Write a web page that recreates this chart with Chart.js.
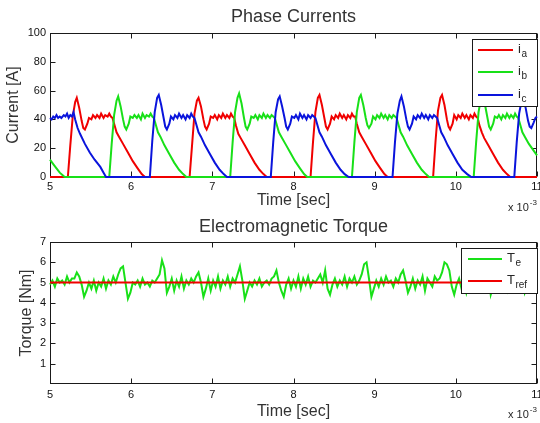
<!DOCTYPE html>
<html>
<head>
<meta charset="utf-8">
<script src="https://cdn.jsdelivr.net/npm/chart.js@4.4.0/dist/chart.umd.min.js"></script>
<style>
  html, body { margin: 0; padding: 0; background: #fff; overflow: hidden; }
  #wrap { position: relative; width: 540px; height: 423px; }
  canvas { position: absolute; left: 0; }
  #currents { top: 0; }
  #torque { top: 214px; }
</style>
</head>
<body>
<div id="wrap">
  <canvas id="currents" width="540" height="214"></canvas>
  <canvas id="torque" width="540" height="209"></canvas>
</div>
<script>
// tick values (time axis is in ms, shown as "x 10^-3" sec)
const timeTicks = [5, 6, 7, 8, 9, 10, 11];
const currentTicks = [0, 20, 40, 60, 80, 100];
const torqueTicks = [1, 2, 3, 4, 5, 6, 7];

// phase current a
const iaTime = [
  5.00,
  5.22, 5.25, 5.28, 5.31, 5.33, 5.36, 5.39, 5.41, 5.43, 5.46, 5.48, 5.51, 5.53, 5.56, 5.58, 5.61, 5.63, 5.66, 5.68, 5.71, 5.73, 5.75, 5.77, 5.79, 5.82, 5.85, 5.90, 5.96, 6.02, 6.08, 6.13, 6.17,
  6.72, 6.75, 6.78, 6.81, 6.83, 6.86, 6.89, 6.91, 6.93, 6.96, 6.98, 7.01, 7.03, 7.06, 7.08, 7.11, 7.13, 7.16, 7.18, 7.21, 7.23, 7.25, 7.27, 7.29, 7.32, 7.35, 7.40, 7.46, 7.52, 7.58, 7.63, 7.67,
  8.21, 8.24, 8.27, 8.30, 8.32, 8.35, 8.38, 8.40, 8.42, 8.45, 8.47, 8.50, 8.52, 8.55, 8.57, 8.60, 8.62, 8.65, 8.67, 8.70, 8.72, 8.74, 8.76, 8.78, 8.81, 8.84, 8.89, 8.95, 9.01, 9.07, 9.12, 9.16,
  9.72, 9.75, 9.78, 9.81, 9.83, 9.86, 9.89, 9.91, 9.93, 9.96, 9.98, 10.01, 10.03, 10.06, 10.08, 10.11, 10.13, 10.16, 10.18, 10.21, 10.23, 10.25, 10.27, 10.29, 10.32, 10.35, 10.40, 10.46, 10.52, 10.58, 10.63, 10.67,
  11.00
];
const iaVal = [
  0,
  0, 22, 42, 52, 55, 48, 39, 34, 33, 37, 41, 40, 43, 41, 43, 41, 44, 41, 43, 42, 44, 42, 41, 37, 31, 28, 23, 17, 11, 6, 2, 0,
  0, 22, 44, 53, 55, 49, 40, 35, 33, 37, 42, 41, 43, 40, 43, 41, 44, 41, 43, 41, 44, 42, 41, 36, 30, 27, 22, 16, 10, 5, 2, 0,
  0, 24, 45, 55, 57, 50, 41, 35, 33, 37, 42, 40, 43, 41, 44, 41, 43, 40, 43, 41, 44, 42, 42, 37, 31, 28, 23, 17, 11, 6, 2, 0,
  0, 25, 46, 55, 57, 50, 40, 35, 33, 37, 43, 40, 43, 41, 44, 41, 43, 40, 43, 41, 44, 42, 41, 36, 31, 27, 22, 16, 10, 5, 2, 0,
  0
];

// phase current b
const ibTime = [
  5.00, 5.04, 5.08, 5.12, 5.16, 5.18,
  5.73, 5.76, 5.79, 5.82, 5.84, 5.87, 5.90, 5.92, 5.94, 5.97, 5.99, 6.02, 6.04, 6.07, 6.09, 6.12, 6.14, 6.17, 6.19, 6.22, 6.24, 6.26, 6.28, 6.30, 6.33, 6.36, 6.41, 6.47, 6.53, 6.59, 6.64, 6.68,
  7.22, 7.25, 7.28, 7.31, 7.33, 7.36, 7.39, 7.41, 7.43, 7.46, 7.48, 7.51, 7.53, 7.56, 7.58, 7.61, 7.63, 7.66, 7.68, 7.71, 7.73, 7.75, 7.77, 7.79, 7.82, 7.85, 7.90, 7.96, 8.02, 8.08, 8.13, 8.17,
  8.72, 8.75, 8.78, 8.81, 8.83, 8.86, 8.89, 8.91, 8.93, 8.96, 8.98, 9.01, 9.03, 9.06, 9.08, 9.11, 9.13, 9.16, 9.18, 9.21, 9.23, 9.25, 9.27, 9.29, 9.32, 9.35, 9.40, 9.46, 9.52, 9.58, 9.63, 9.67,
  10.22, 10.25, 10.28, 10.31, 10.33, 10.36, 10.39, 10.41, 10.43, 10.46, 10.48, 10.51, 10.53, 10.56, 10.58, 10.61, 10.63, 10.66, 10.68, 10.71, 10.73, 10.75, 10.77, 10.79, 10.82, 10.85, 10.90, 10.95, 11.00
];
const ibVal = [
  12, 9, 6, 3, 1, 0,
  0, 23, 43, 53, 56, 49, 40, 35, 33, 37, 42, 41, 43, 41, 43, 40, 44, 41, 43, 42, 44, 42, 41, 37, 31, 28, 22, 16, 10, 5, 2, 0,
  0, 24, 45, 55, 58, 51, 41, 35, 33, 37, 42, 41, 43, 40, 43, 41, 44, 41, 43, 41, 43, 42, 41, 37, 31, 28, 23, 17, 11, 6, 2, 0,
  0, 24, 45, 55, 57, 50, 41, 36, 34, 37, 42, 40, 43, 41, 44, 41, 43, 40, 43, 41, 43, 42, 41, 37, 31, 28, 22, 16, 10, 5, 2, 0,
  0, 24, 45, 55, 57, 50, 41, 35, 33, 37, 42, 41, 43, 40, 43, 41, 44, 41, 43, 41, 44, 42, 41, 37, 31, 28, 23, 19, 15
];

// phase current c
const icTime = [
  5.00, 5.02, 5.04, 5.06, 5.08, 5.10, 5.12, 5.14, 5.17, 5.19, 5.21, 5.23, 5.25, 5.27, 5.29,
  5.31, 5.34, 5.37, 5.43, 5.49, 5.55, 5.62, 5.66, 5.69,
  6.23, 6.26, 6.29, 6.32, 6.34, 6.37, 6.40, 6.42, 6.44, 6.47, 6.49, 6.52, 6.54, 6.57, 6.59, 6.62, 6.64, 6.67, 6.69, 6.72, 6.74, 6.76, 6.78, 6.80, 6.83, 6.86, 6.91, 6.97, 7.03, 7.09, 7.14, 7.18,
  7.72, 7.75, 7.78, 7.81, 7.83, 7.86, 7.89, 7.91, 7.93, 7.96, 7.98, 8.01, 8.03, 8.06, 8.08, 8.11, 8.13, 8.16, 8.18, 8.21, 8.23, 8.25, 8.27, 8.29, 8.32, 8.35, 8.40, 8.46, 8.52, 8.58, 8.63, 8.68,
  9.22, 9.25, 9.28, 9.31, 9.33, 9.36, 9.39, 9.41, 9.43, 9.46, 9.48, 9.51, 9.53, 9.56, 9.58, 9.61, 9.63, 9.66, 9.68, 9.71, 9.73, 9.75, 9.77, 9.79, 9.82, 9.85, 9.90, 9.96, 10.02, 10.08, 10.14, 10.19,
  10.72, 10.75, 10.78, 10.81, 10.83, 10.86, 10.89, 10.91, 10.93, 10.96, 10.98, 11.00
];
const icVal = [
  41, 40, 42, 41, 43, 41, 42, 41, 43, 42, 44, 41, 43, 42, 45,
  40, 34, 30, 23, 17, 12, 7, 3, 0,
  0, 25, 45, 55, 57, 50, 41, 35, 33, 37, 42, 40, 43, 41, 44, 41, 43, 40, 43, 41, 44, 42, 41, 37, 31, 28, 22, 16, 10, 5, 2, 0,
  0, 24, 45, 54, 56, 49, 41, 35, 33, 37, 42, 41, 43, 40, 44, 41, 43, 40, 43, 41, 43, 42, 41, 37, 31, 28, 22, 16, 10, 5, 2, 0,
  0, 24, 44, 53, 56, 49, 40, 35, 33, 37, 42, 40, 43, 41, 44, 41, 43, 40, 43, 41, 43, 42, 41, 37, 31, 28, 22, 16, 10, 5, 2, 0,
  0, 24, 44, 53, 55, 48, 39, 35, 34, 38, 41, 42
];

// electromagnetic torque, sampled every 0.03 ms from 5 ms
const teStart = 5;
const teStep = 0.03;
const teVal = [
  4.9, 5.1, 4.8, 5.2, 5.0, 5.1, 4.9, 5.3, 5.0, 5.2,
  5.2, 5.5, 5.3, 4.9, 4.3, 4.6, 5.0, 4.7, 5.1, 4.6,
  5.0, 4.8, 5.2, 4.7, 5.1, 4.9, 5.3, 5.0, 5.4, 5.7,
  5.8, 5.0, 4.2, 4.5, 5.0, 4.9, 5.1, 4.8, 5.2, 4.9,
  5.0, 4.8, 5.1, 5.0, 5.2, 5.4, 6.1, 5.7, 4.5, 4.8,
  5.2, 4.6, 5.1, 4.8, 5.3, 4.7, 5.1, 4.9, 5.2, 5.0,
  5.3, 5.5, 5.0, 4.3, 4.7, 5.2, 4.6, 5.1, 4.8, 5.3,
  4.7, 5.1, 4.9, 5.3, 4.8, 5.2, 5.0, 5.4, 5.8, 5.1,
  4.2, 4.6, 5.0, 4.8, 5.1, 4.9, 5.2, 4.8, 5.0, 5.1,
  4.9, 5.2, 5.3, 5.6, 5.0, 4.6, 4.3, 4.9, 5.2, 4.7,
  5.1, 4.8, 5.3, 4.7, 5.2, 4.9, 5.3, 4.8, 5.1, 5.0,
  5.2, 5.4, 5.0, 5.6, 4.7, 4.4, 4.9, 5.2, 4.8, 5.1,
  4.9, 5.3, 4.8, 5.2, 5.0, 5.3, 4.9, 5.1, 5.4, 5.9,
  6.0, 5.2, 4.3, 4.7, 5.1, 4.8, 5.2, 4.9, 5.3, 5.0,
  5.1, 4.8, 5.2, 5.0, 5.4, 5.6, 5.1, 4.5, 4.8, 5.2,
  4.7, 5.1, 4.9, 5.3, 4.6, 5.2, 5.0, 4.8, 5.3, 5.1,
  5.2, 5.5, 6.0, 5.9, 5.6, 4.8, 4.4, 4.9, 5.2, 4.7,
  5.1, 4.5, 5.0, 4.8, 5.2, 4.9, 5.1, 5.0, 5.3, 5.8,
  5.6, 4.4, 4.8, 5.1, 4.7, 5.2, 4.9, 5.0, 4.6, 5.1,
  4.8, 5.2, 5.0, 5.4, 5.6, 4.5, 4.8, 5.1, 4.7, 5.2, 4.9
];
const teTime = teVal.map((v, i) => +(teStart + i * teStep).toFixed(2));

// reference torque
const trefTime = [5, 11];
const trefVal = [5, 5];

const FONT = "'Liberation Sans', Arial, Helvetica, sans-serif";
const TEXT = '#262626';
const TICK = '#111';

function points(xs, ys) {
	return xs.map((x, i) => ({ x: x, y: ys[i] }));
}

function drawSub(ctx, x, y, main, sub) {
	ctx.font = '13px ' + FONT;
	ctx.fillText(main, x, y);
	const w = ctx.measureText(main).width;
	ctx.font = '10px ' + FONT;
	ctx.fillText(sub, x + w + 0.5, y + 5);
}

// MATLAB-like box, inward ticks, boxed legend and the axis exponent
const matlabAxes = {
	id: 'matlabAxes',
	beforeDatasetsDraw(chart) {
		const { ctx, chartArea: a, scales } = chart;
		const l = Math.round(a.left) + 0.5,
			r = Math.round(a.right) - 0.5,
			t = Math.round(a.top) + 0.5,
			b = Math.round(a.bottom) - 0.5;
		ctx.save();
		ctx.strokeStyle = '#1a1a1a';
		ctx.lineWidth = 1;
		ctx.strokeRect(l, t, r - l, b - t);
		ctx.beginPath();
		scales.x.ticks.forEach((tk) => {
			const px = Math.round(scales.x.getPixelForValue(tk.value)) + 0.5;
			ctx.moveTo(px, b);
			ctx.lineTo(px, b - 5);
			ctx.moveTo(px, t);
			ctx.lineTo(px, t + 5);
		});
		scales.y.ticks.forEach((tk) => {
			const py = Math.round(scales.y.getPixelForValue(tk.value)) + 0.5;
			ctx.moveTo(l, py);
			ctx.lineTo(l + 5, py);
			ctx.moveTo(r, py);
			ctx.lineTo(r - 5, py);
		});
		ctx.stroke();
		ctx.restore();
	},
	afterDatasetsDraw(chart, args, opts) {
		const lg = opts.legend;
		if (!lg) return;
		const ctx = chart.ctx;
		ctx.save();
		ctx.fillStyle = '#fff';
		ctx.fillRect(lg.left, lg.top, lg.width, lg.height);
		ctx.strokeStyle = '#1a1a1a';
		ctx.lineWidth = 1;
		ctx.strokeRect(lg.left + 0.5, lg.top + 0.5, lg.width - 1, lg.height - 1);
		lg.rows.forEach((row) => {
			const ds = chart.data.datasets[row.dataset];
			ctx.strokeStyle = ds.borderColor;
			ctx.lineWidth = 2;
			ctx.beginPath();
			ctx.moveTo(lg.lineFrom, lg.top + row.y);
			ctx.lineTo(lg.lineTo, lg.top + row.y);
			ctx.stroke();
			ctx.fillStyle = TEXT;
			ctx.textBaseline = 'middle';
			drawSub(ctx, lg.textX, lg.top + row.y - 1, row.main, row.sub);
		});
		ctx.restore();
	},
	afterDraw(chart, args, opts) {
		const ex = opts.exponent;
		if (!ex) return;
		const ctx = chart.ctx;
		ctx.save();
		ctx.fillStyle = TEXT;
		ctx.textBaseline = 'middle';
		ctx.font = '11px ' + FONT;
		ctx.fillText('x 10', ex.x, ex.y);
		const w = ctx.measureText('x 10').width;
		ctx.font = '8px ' + FONT;
		ctx.fillText('-3', ex.x + w + 1, ex.y - 5);
		ctx.restore();
	},
};

function axisTicks(values) {
	return (scale) => {
		scale.ticks = values.map((v) => ({ value: v }));
	};
}

function baseOptions(o) {
	return {
		responsive: false,
		animation: false,
		devicePixelRatio: 1,
		layout: { padding: { left: 0, right: 3, top: 0, bottom: 0 } },
		plugins: {
			legend: { display: false },
			tooltip: { enabled: false },
			title: {
				display: true,
				text: o.title,
				fullSize: false,
				color: '#333',
				font: { family: FONT, size: 18, weight: 'normal', lineHeight: 1.2 },
				padding: o.titlePad,
			},
			matlabAxes: { legend: o.legend, exponent: o.exponent },
		},
		scales: {
			x: {
				type: 'linear',
				min: 5,
				max: 11,
				afterBuildTicks: axisTicks(timeTicks),
				afterFit: (s) => {
					s.height = o.xHeight;
					s.paddingLeft = 0;
					s.paddingRight = 0;
				},
				grid: { display: false, drawTicks: false },
				border: { display: false },
				ticks: { color: TICK, padding: o.xTickPad, maxRotation: 0, autoSkip: false, font: { family: FONT, size: 11 } },
				title: {
					display: true,
					text: 'Time [sec]',
					color: '#333',
					font: { family: FONT, size: 16, lineHeight: 1.2 },
					padding: { top: 0, bottom: o.xTitlePad },
				},
			},
			y: {
				type: 'linear',
				min: o.yMin,
				max: o.yMax,
				afterBuildTicks: axisTicks(o.yTicks),
				afterFit: (s) => {
					s.width = 50;
					s.paddingTop = 0;
					s.paddingBottom = 0;
				},
				grid: { display: false, drawTicks: false },
				border: { display: false },
				ticks: { color: TICK, padding: 4, autoSkip: false, font: { family: FONT, size: 11 } },
				title: {
					display: true,
					text: o.yTitle,
					color: '#333',
					font: { family: FONT, size: 16, lineHeight: 1.2 },
					padding: { top: o.yTitlePad, bottom: 0 },
				},
			},
		},
	};
}

function line(label, xs, ys, color, width, order) {
	return {
		label: label,
		data: points(xs, ys),
		borderColor: color,
		borderWidth: width,
		pointRadius: 0,
		tension: 0,
		fill: false,
		clip: 3,
		order: order,
	};
}

new Chart(document.getElementById('currents'), {
	type: 'line',
	data: {
		datasets: [
			line('i_a', iaTime, iaVal, '#f00000', 2, 2),
			line('i_b', ibTime, ibVal, '#18e018', 2, 1),
			line('i_c', icTime, icVal, '#0a14dc', 2, 0),
		],
	},
	options: baseOptions({
		title: 'Phase Currents',
		titlePad: { top: 6.5, bottom: 4.9 },
		xHeight: 37,
		xTickPad: 3,
		xTitlePad: 3.5,
		yMin: 0,
		yMax: 100,
		yTicks: currentTicks,
		yTitle: 'Current [A]',
		yTitlePad: 4,
		legend: {
			left: 472, top: 39, width: 66, height: 68,
			lineFrom: 478, lineTo: 513, textX: 518,
			rows: [
				{ dataset: 0, y: 11, main: 'i', sub: 'a' },
				{ dataset: 1, y: 33, main: 'i', sub: 'b' },
				{ dataset: 2, y: 56, main: 'i', sub: 'c' },
			],
		},
		exponent: { x: 508, y: 208 },
	}),
	plugins: [matlabAxes],
});

new Chart(document.getElementById('torque'), {
	type: 'line',
	data: {
		datasets: [
			line('T_e', teTime, teVal, '#18e018', 2, 1),
			line('T_ref', trefTime, trefVal, '#f00000', 2, 0),
		],
	},
	options: baseOptions({
		title: 'Electromagnetic Torque',
		titlePad: { top: 2.2, bottom: 4.2 },
		xHeight: 39,
		xTickPad: 4,
		xTitlePad: 1.4,
		yMin: 0,
		yMax: 7,
		yTicks: torqueTicks,
		yTitle: 'Torque [Nm]',
		yTitlePad: 17,
		legend: {
			left: 461, top: 34, width: 77, height: 46,
			lineFrom: 468, lineTo: 502, textX: 507,
			rows: [
				{ dataset: 0, y: 11, main: 'T', sub: 'e' },
				{ dataset: 1, y: 33, main: 'T', sub: 'ref' },
			],
		},
		exponent: { x: 508, y: 201 },
	}),
	plugins: [matlabAxes],
});
</script>
</body>
</html>
